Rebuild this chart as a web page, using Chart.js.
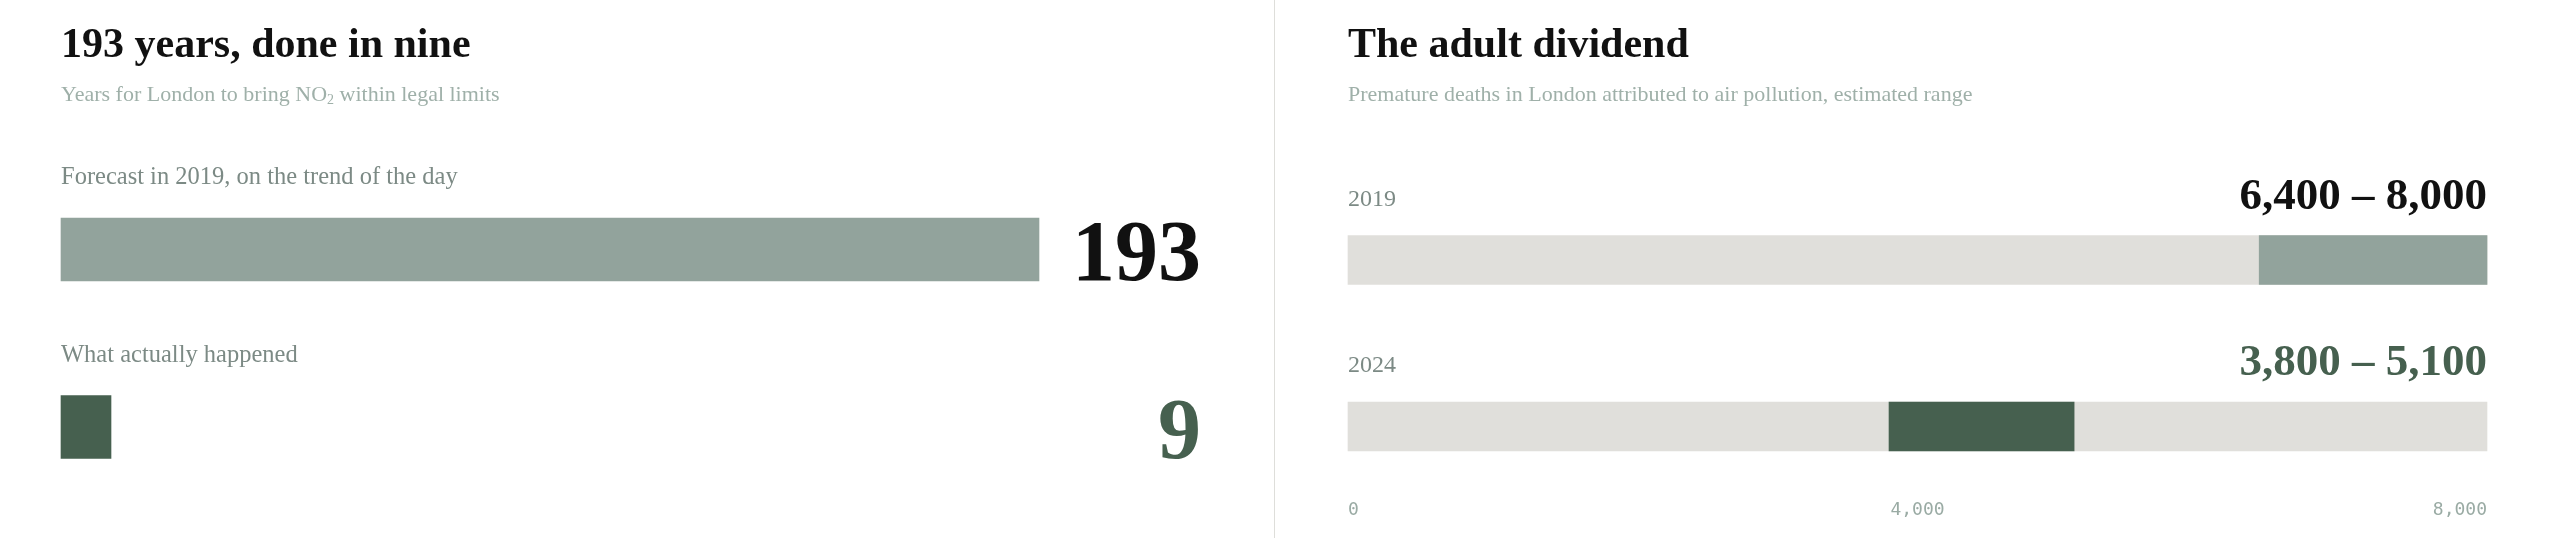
<!DOCTYPE html>
<html>
<head>
<meta charset="utf-8">
<script src="https://cdn.jsdelivr.net/npm/chart.js@4.4.1/dist/chart.umd.min.js"></script>
<style>
  html, body { margin: 0; padding: 0; background: #fff; }
  body { width: 2560px; height: 538px; position: relative; overflow: hidden; font-family: "Liberation Serif", serif; }
  .panel { position: absolute; top: 0; height: 538px; }
  .panel canvas { position: absolute; left: 0; top: 0; }
  .title { position: absolute; top: 22px; font-size: 42px; line-height: 1; font-weight: bold; color: #111; white-space: nowrap; }
  .sub { position: absolute; top: 83px; font-size: 22px; line-height: 1; color: #9fb0a9; white-space: nowrap; }
  .sub sub { font-size: 14px; vertical-align: -3px; line-height: 0; }
  .divider { position: absolute; left: 1274px; top: 0; width: 1px; height: 538px; background: #dededa; }
</style>
</head>
<body>
<div class="panel" id="left" style="left:0;width:1274px">
  <canvas id="yearsChart" width="1274" height="538"></canvas>
  <div class="title" style="left:61px">193 years, done in nine</div>
  <div class="sub" style="left:61px">Years for London to bring NO<sub>2</sub> within legal limits</div>
</div>
<div class="divider"></div>
<div class="panel" id="right" style="left:1275px;width:1285px">
  <canvas id="deathsChart" width="1285" height="538"></canvas>
  <div class="title" style="left:73px">The adult dividend</div>
  <div class="sub" style="left:73px">Premature deaths in London attributed to air pollution, estimated range</div>
</div>
<script>
// left panel: years to reach legal NO2 limits
const forecastLabels = ['Forecast in 2019, on the trend of the day', 'What actually happened'];
const forecastYears = [193, 9];

// right panel: premature deaths, low / high estimate
const deathYears = ['2019', '2024'];
const deathLow = [6400, 3800];
const deathHigh = [8000, 5100];
const deathAxisMax = 8000;
const deathTicks = [0, 4000, 8000];

const GREY_GREEN = '#92a39c';
const DARK_GREEN = '#46604f';
const TRACK = '#e0dfdb';
const LABEL = '#7c8a85';

const fmt = v => v.toLocaleString('en-US');

// draws the row label above each bar and the big value on the right
const rowLabels = {
  id: 'rowLabels',
  afterDatasetsDraw(chart, args, opts) {
    const ctx = chart.ctx;
    const meta = chart.getDatasetMeta(0);
    ctx.save();
    meta.data.forEach((bar, i) => {
      const top = bar.y - bar.height / 2;
      const bottom = bar.y + bar.height / 2;
      ctx.textBaseline = 'alphabetic';
      ctx.textAlign = 'left';
      ctx.font = opts.labelFont;
      ctx.fillStyle = LABEL;
      ctx.fillText(chart.data.labels[i], chart.chartArea.left, top - opts.labelGap);
      ctx.textAlign = 'right';
      ctx.font = opts.valueFont;
      ctx.fillStyle = opts.valueColors[i];
      const vy = opts.valueAtBottom ? bottom - 1 : top - opts.valueGap;
      ctx.fillText(opts.valueText(i), chart.chartArea.right + opts.valueShift, vy);
    });
    ctx.restore();
  }
};

new Chart(document.getElementById('yearsChart'), {
  type: 'bar',
  data: {
    labels: forecastLabels,
    datasets: [{
      data: forecastYears,
      backgroundColor: [GREY_GREEN, DARK_GREEN],
      barThickness: 63,
      minBarLength: 50,
      clip: false
    }]
  },
  options: {
    indexAxis: 'y',
    responsive: false,
    animation: false,
    events: [],
    layout: { padding: { left: 61, right: 235, top: 249.5, bottom: 111 } },
    scales: {
      x: { display: false, min: 0, max: Math.max(...forecastYears) },
      y: { display: false, offset: false }
    },
    plugins: {
      legend: { display: false },
      tooltip: { enabled: false },
      rowLabels: {
        labelFont: '24.5px "Liberation Serif"',
        labelGap: 34,
        valueFont: 'bold 86px "Liberation Serif"',
        valueColors: ['#111', DARK_GREEN],
        valueAtBottom: true,
        valueShift: 162,
        valueText: i => String(forecastYears[i])
      }
    }
  },
  plugins: [rowLabels]
});

new Chart(document.getElementById('deathsChart'), {
  type: 'bar',
  data: {
    labels: deathYears,
    datasets: [{
      data: deathYears.map((y, i) => [deathLow[i], deathHigh[i]]),
      backgroundColor: [GREY_GREEN, DARK_GREEN],
      barThickness: 49,
      grouped: false,
      order: 0,
      clip: false
    }, {
      data: deathYears.map(() => [0, deathAxisMax]),
      backgroundColor: TRACK,
      barThickness: 49,
      grouped: false,
      order: 1,
      clip: false
    }]
  },
  options: {
    indexAxis: 'y',
    responsive: false,
    animation: false,
    events: [],
    layout: { padding: { left: 73, right: 71, top: 260, bottom: 11.5 } },
    scales: {
      x: {
        min: 0,
        max: deathAxisMax,
        grid: { display: false, drawTicks: false },
        border: { display: false },
        afterBuildTicks: s => { s.ticks = deathTicks.map(v => ({ value: v })); },
        afterFit: s => { s.height = 100; },
        ticks: {
          align: 'inner',
          padding: 73,
          maxRotation: 0,
          color: '#9aaba4',
          font: { family: '"DejaVu Sans Mono"', size: 18 },
          callback: v => fmt(v)
        }
      },
      y: { display: false, offset: false }
    },
    plugins: {
      legend: { display: false },
      tooltip: { enabled: false },
      rowLabels: {
        labelFont: '24px "Liberation Serif"',
        labelGap: 30,
        valueFont: 'bold 45px "Liberation Serif"',
        valueColors: ['#111', DARK_GREEN],
        valueAtBottom: false,
        valueGap: 27,
        valueShift: 0,
        valueText: i => fmt(deathLow[i]) + ' \u2013 ' + fmt(deathHigh[i])
      }
    }
  },
  plugins: [rowLabels]
});
</script>
</body>
</html>
